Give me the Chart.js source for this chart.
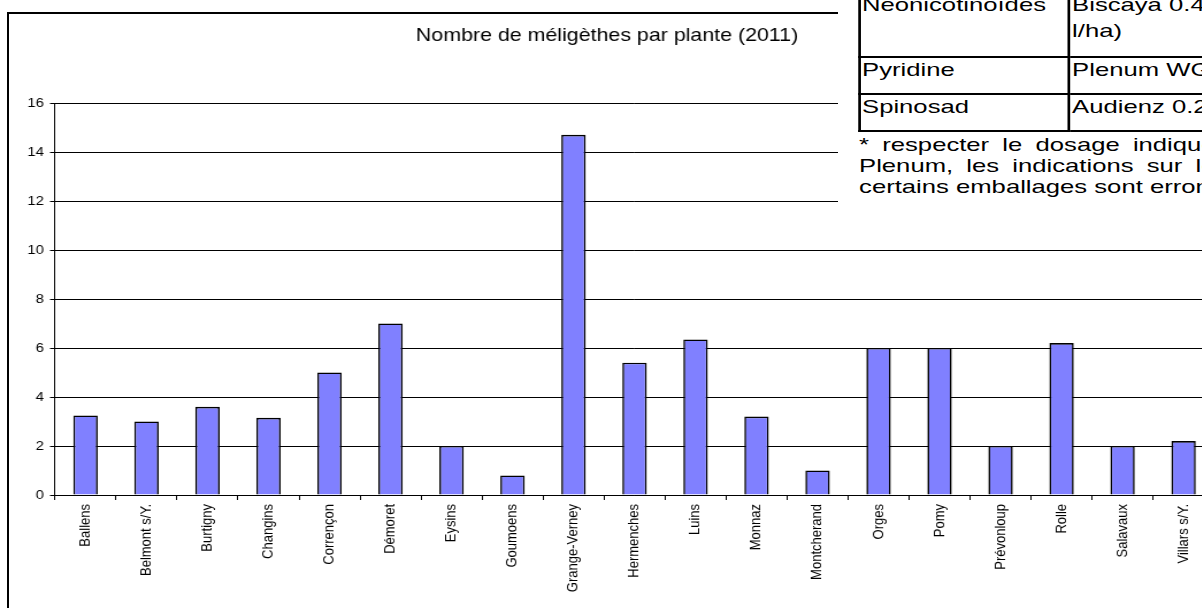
<!DOCTYPE html>
<html lang="fr">
<head>
  <meta charset="UTF-8" />
  <title>Méligèthes 2011</title>
  <script src="https://cdn.jsdelivr.net/npm/chart.js"></script>
  <style>
    body {
      margin: 0;
      width: 1202px;
      height: 608px;
      overflow: hidden;
      position: relative;
      background: #fff;
      font-family: "Liberation Sans", Arial, sans-serif;
    }

    .frame {
      position: absolute;
      left: 7px;
      top: 12px;
      width: 1300px;
      height: 700px;
      border: 2px solid #000;
    }

    /* the source picture is a bit stretched sideways, so the chart is drawn
       narrower and widened again */
    .chart-box {
      position: absolute;
      left: 0;
      top: 0;
      width: 1071.3px;
      height: 640px;
      transform: scaleX(1.15);
      transform-origin: 0 0;
    }

    /* bit of the text document lying over the chart */
    .note {
      position: absolute;
      left: 838px;
      top: 0;
      width: 364px;
      height: 234px;
      background: #fff;
      overflow: hidden;
      color: #000;
    }

    .note .inner {
      position: absolute;
      left: 0;
      top: 0;
      width: 400px;
      height: 234px;
      font-size: 19px;
      transform: scaleX(1.35);
      transform-origin: 0 0;
    }

    .note table {
      position: absolute;
      left: 14.8px;
      top: -10px;
      border-collapse: collapse;
      table-layout: fixed;
      width: 406px;
    }

    .note td {
      border: 2px solid #000;
      padding: 0 1px;
      vertical-align: top;
      line-height: 23px;
      white-space: nowrap;
      overflow: hidden;
    }

    .note tr.two-lines td {
      line-height: 26px;
    }

    .note p {
      position: absolute;
      left: 15.6px;
      top: 134px;
      margin: 0;
      line-height: 21px;
      white-space: nowrap;
    }
  </style>
</head>
<body>
  <div class="frame"></div>
  <div class="chart-box">
    <canvas id="meligethesChart"></canvas>
  </div>

  <div class="note">
    <div class="inner">
      <table>
        <colgroup><col style="width:155.6px"><col style="width:250px"></colgroup>
        <tr class="two-lines" style="height:66px">
          <td>Neonicotinoïdes</td>
          <td>Biscaya 0.4 (0.3<br>l/ha)</td>
        </tr>
        <tr style="height:37px">
          <td>Pyridine</td>
          <td>Plenum WG 0.15 kg/ha*</td>
        </tr>
        <tr style="height:37px">
          <td>Spinosad</td>
          <td>Audienz 0.2 l/ha</td>
        </tr>
      </table>
      <p>
        <span style="word-spacing:4.5px">* respecter le dosage indiqué pour le</span><br>
        <span style="word-spacing:4.5px">Plenum, les indications sur les</span><br>
        <span>certains emballages sont erronées</span>
      </p>
    </div>
  </div>

  <script>
    const sites = ['Ballens', 'Belmont s/Y.', 'Burtigny', 'Changins', 'Corrençon', 'Démoret',
      'Eysins', 'Goumoens', 'Grange-Verney', 'Hermenches', 'Luins', 'Monnaz', 'Montcherand',
      'Orges', 'Pomy', 'Prévonloup', 'Rolle', 'Salavaux', 'Villars s/Y.'];
    const meligethes = [3.25, 3.0, 3.6, 3.15, 5.0, 7.0, 2.0, 0.8, 14.7, 5.4, 6.35, 3.2, 1.0,
      6.0, 6.0, 2.0, 6.2, 2.0, 2.2];
    const yMin = 0;
    const yMax = 16;
    const yStep = 2;
    const chartTitle = 'Nombre de méligèthes par plante (2011)';

    const FONT = '"Liberation Sans", Arial, sans-serif';

    const ctx = document.getElementById('meligethesChart').getContext('2d');

    new Chart(ctx, {
      type: 'bar',
      data: {
        labels: sites,
        datasets: [{
          data: meligethes,
          backgroundColor: '#8080ff',
          borderColor: '#000',
          borderWidth: 1.6,
          categoryPercentage: 1,
          barPercentage: 0.4
        }]
      },
      options: {
        responsive: true,
        maintainAspectRatio: false,
        animation: false,
        layout: { padding: { left: 0, right: 15.6, top: 0, bottom: 0 } },
        plugins: {
          legend: { display: false },
          tooltip: { enabled: false },
          title: {
            display: true,
            text: chartTitle,
            color: '#000',
            font: { family: FONT, size: 18.6, weight: 'normal' },
            padding: { top: 24.8, bottom: 55.9 }
          }
        },
        scales: {
          x: {
            grid: { offset: true, drawOnChartArea: false, drawTicks: true, tickLength: 5, color: '#000' },
            border: { color: '#000', width: 1 },
            ticks: {
              color: '#000',
              font: { family: FONT, size: 13 },
              minRotation: 90,
              maxRotation: 90,
              autoSkip: false,
              padding: 4
            },
            afterFit: s => { s.height = 145; }
          },
          y: {
            min: yMin,
            max: yMax,
            ticks: { stepSize: yStep, color: '#000', font: { family: FONT, size: 13 }, padding: 5.2 },
            grid: { color: '#000', lineWidth: 1, tickLength: 4.35, drawTicks: true },
            border: { color: '#000', width: 1 },
            afterFit: s => { s.width = 47.83; }
          }
        }
      }
    });
  </script>
</body>
</html>
